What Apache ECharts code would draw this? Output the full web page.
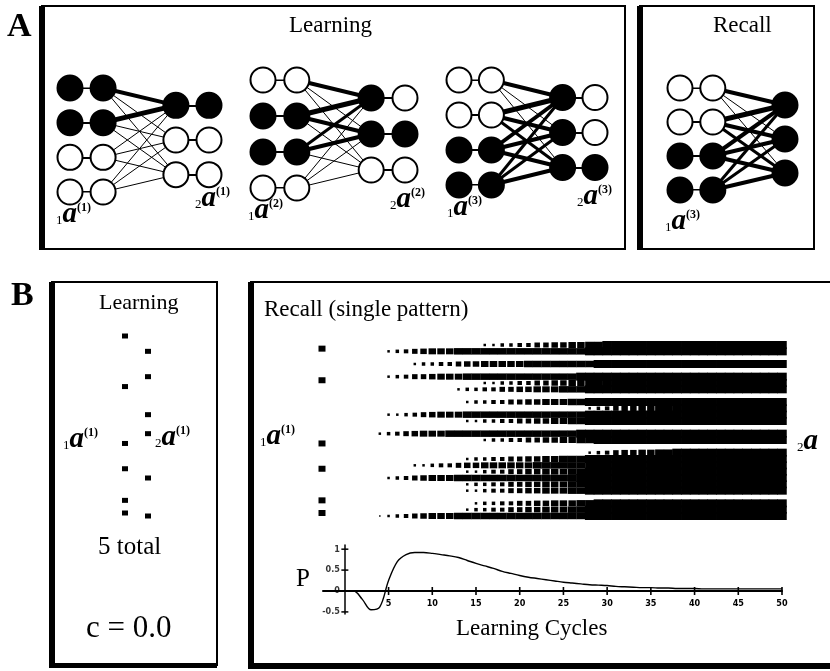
<!DOCTYPE html>
<html><head><meta charset="utf-8">
<script src="https://cdn.jsdelivr.net/npm/echarts@6/dist/echarts.min.js"></script>
<style>html,body{margin:0;padding:0;background:#fff}#c{width:830px;height:671px}</style>
</head><body><div id="c"></div>
<script>
// ---------- network snapshots (panel A) ----------
// input unit states, top to bottom (1 = active)
const inputs1 = [1, 1, 0, 0];
const inputs2 = [0, 1, 1, 0];
const inputs3 = [0, 0, 1, 1];
const inputsRecall = [0, 0, 1, 1];
// output unit states per row: [first column, second column]
const outputs1 = [[1, 1], [0, 0], [0, 0]];
const outputs2 = [[1, 0], [1, 1], [0, 0]];
const outputs3 = [[1, 0], [1, 0], [1, 1]];
const outputsRecall = [[1], [1], [1]];
// connection strengths input row -> output row (stroke weight)
const weights1 = [[4, 1, 1], [5, 1, 1], [1, 1, 1], [1, 1, 1]];
const weights2 = [[4, 1, 1], [5, 4, 1], [3, 4, 1], [1, 1, 1]];
const weights3 = [[4, 1, 1], [5, 4, 3], [4, 4, 4], [3, 3, 4]];
const weightsRecall = [[4, 1, 1], [5, 4, 3], [4, 4, 4], [3, 3, 4]];

// ---------- panel B ----------
// active input units of the learned pattern and of the recall cue
const learnedIn = [0, 8, 17, 21, 26, 28];
const cueIn = [2, 7, 17, 21, 26, 28];
// active output units of the learned pattern
const learnedOut = [1, 5, 11, 14, 21, 27];
// recalled output activity: unit index and activity level (0-9) for cycles 0..50
const rasterUnits = [0, 1, 3, 5, 6, 7, 9, 10, 11, 12, 14, 15, 17, 18, 19, 20, 21, 22, 23, 25, 26, 27];
const rasterLevels = [
  "00000 00000 00000 02233 44556 67788 99999 99999 99999 99999 9",
  "00000 23456 77788 88888 88888 88899 99999 99999 99999 99999 9",
  "00000 00023 34456 67777 78888 88889 99999 99999 99999 99999 9",
  "00000 23455 67778 88888 88888 88999 99999 99999 99999 99999 9",
  "00000 00000 00000 02233 44556 67788 99999 99999 99999 99999 9",
  "00000 00000 00023 34455 66777 88899 99999 99999 99999 99999 9",
  "00000 00000 00002 33445 56677 78899 99999 99999 99999 99999 9",
  "00000 00000 00000 00000 00000 00023 45667 78899 99999 99999 9",
  "00000 22345 67778 88888 88888 88899 99999 99999 99999 99999 9",
  "00000 00000 00002 23344 55667 78899 99999 99999 99999 99999 9",
  "00002 34567 77888 88888 88888 88999 99999 99999 99999 99999 9",
  "00000 00000 00000 02334 45566 77889 99999 99999 99999 99999 9",
  "00000 00000 00000 00000 00000 00023 45667 78899 99999 99999 9",
  "00000 00000 00002 33445 56677 88899 99999 99999 99999 99999 9",
  "00000 00022 34456 67777 77888 88889 99999 99999 99999 99999 9",
  "00000 00000 00002 23445 56677 78899 99999 99999 99999 99999 9",
  "00000 23456 77788 88888 88888 88999 99999 99999 99999 99999 9",
  "00000 00000 00002 33445 56677 78899 99999 99999 99999 99999 9",
  "00000 00000 00002 23445 56677 78899 99999 99999 99999 99999 9",
  "00000 00000 00000 23344 55667 77889 99999 99999 99999 99999 9",
  "00000 00000 00002 33445 56677 78899 99999 99999 99999 99999 9",
  "00001 23456 77788 88888 88888 88899 99999 99999 99999 99999 9"
];
// recall performance P at learning cycles 0..50
const pValues = [
  0, 0, -0.2, -0.45, -0.38, 0.25, 0.7, 0.87, 0.92, 0.92, 0.9,
  0.87, 0.84, 0.8, 0.73, 0.66, 0.6, 0.54, 0.47, 0.42, 0.37,
  0.33, 0.3, 0.27, 0.24, 0.21, 0.19, 0.17, 0.15, 0.14, 0.13,
  0.11, 0.1, 0.09, 0.08, 0.08, 0.07, 0.07, 0.06, 0.06, 0.06,
  0.05, 0.05, 0.05, 0.05, 0.05, 0.05, 0.05, 0.05, 0.05, 0.05
];
const pTicksX = [5, 10, 15, 20, 25, 30, 35, 40, 45, 50];
const pTicksY = [-0.5, 0.5, 1];
const pLabelsY = [-0.5, 0, 0.5, 1];

// ---------- drawing ----------
const SERIF = '"Liberation Serif", "Times New Roman", serif';
const TICKFONT = '"Liberation Sans Narrow", "DejaVu Sans Condensed", sans-serif';
const BLK = '#000';
const sqW = [0, 1.5, 2.5, 3.5, 4.5, 5.5, 6.5, 7.5, 9, 9.5];
const sqH = [0, 1.5, 2.5, 3.5, 4, 5, 5.5, 6, 6.5, 8];

const grids = [], xAxes = [], yAxes = [], series = [];
function addGrid(g, x, y) {
  grids.push(Object.assign({ containLabel: false }, g));
  const gi = grids.length - 1;
  xAxes.push(Object.assign({ gridIndex: gi, type: 'value', show: false }, x));
  yAxes.push(Object.assign({ gridIndex: gi, type: 'value', show: false }, y));
  return gi;
}

const colIn = [0, 1], colOut = [3.2, 4.2];
function network(box, ins, outs, w) {
  const gi = addGrid(box, { min: 0, max: outs[0].length > 1 ? 4.2 : 3.2 }, { min: 0, max: 3, inverse: true });
  const links = [];
  ins.forEach((s, i) => links.push({ coords: [[colIn[0], i], [colIn[1], i]], lineStyle: { width: 2 } }));
  outs.forEach((o, j) => { if (o.length > 1) links.push({ coords: [[colOut[0], j + 0.5], [colOut[1], j + 0.5]], lineStyle: { width: 2 } }); });
  w.forEach((row, i) => row.forEach((v, j) => links.push({ coords: [[colIn[1], i], [colOut[0], j + 0.5]], lineStyle: { width: v } })));
  series.push({ type: 'lines', coordinateSystem: 'cartesian2d', xAxisIndex: gi, yAxisIndex: gi, silent: true, z: 1,
    lineStyle: { color: BLK, opacity: 1, width: 1 }, data: links });
  const nodes = [];
  ins.forEach((s, i) => colIn.forEach(cx => nodes.push({ value: [cx, i], itemStyle: { color: s ? BLK : '#fff' } })));
  outs.forEach((o, j) => o.forEach((s, c) => nodes.push({ value: [colOut[c], j + 0.5], itemStyle: { color: s ? BLK : '#fff' } })));
  series.push({ type: 'scatter', xAxisIndex: gi, yAxisIndex: gi, silent: true, clip: false, z: 3, symbolSize: 25,
    itemStyle: { borderColor: BLK, borderWidth: 2, opacity: 1 }, data: nodes });
}
network({ left: 70, top: 88, width: 139, height: 104 }, inputs1, outputs1, weights1);
network({ left: 263, top: 80, width: 142, height: 108 }, inputs2, outputs2, weights2);
network({ left: 459, top: 80, width: 136, height: 105 }, inputs3, outputs3, weights3);
network({ left: 680, top: 88, width: 105, height: 102 }, inputsRecall, outputsRecall, weightsRecall);

// unit scales for panel B (input layer and output layer)
const inAxis = { min: 0, max: 28, inverse: true };
const outAxis = { min: 0, max: 27, inverse: true };
const inBox = { top: 336, height: 177 };
const outBox = { top: 345, height: 171 };
function dots(left, box, axis, units, size) {
  const gi = addGrid(Object.assign({ left: left - 1, width: 2 }, box), { min: -1, max: 1 }, axis);
  series.push({ type: 'scatter', xAxisIndex: gi, yAxisIndex: gi, clip: false, silent: true, symbol: 'rect', symbolSize: size,
    itemStyle: { color: BLK, opacity: 1 }, data: units.map(u => [0, u]) });
}
// learned pattern pair
dots(125, inBox, inAxis, learnedIn, [6, 5]);
dots(148, outBox, outAxis, learnedOut, [6, 5]);
// recall cue
dots(322, inBox, inAxis, cueIn, [7, 6]);

// recalled activity raster
const gR = addGrid(Object.assign({ left: 323, width: 459 }, outBox), { min: -2.5, max: 50 }, outAxis);
const rasterData = [];
rasterUnits.forEach((u, r) => {
  const lv = rasterLevels[r].replace(/ /g, '');
  for (let c = 0; c < lv.length; c++) {
    const l = +lv[c];
    if (l > 0) rasterData.push([c, u, l]);
  }
});
series.push({ type: 'scatter', xAxisIndex: gR, yAxisIndex: gR, clip: false, silent: true, symbol: 'rect',
  symbolSize: v => [sqW[v[2]], sqH[v[2]]], itemStyle: { color: BLK, opacity: 1 }, large: false, progressive: 0,
  data: rasterData });

// performance curve
const gP = addGrid({ left: 323, top: 545, width: 459, height: 69 },
  { show: true, min: -2.5, max: 50,
    axisLine: { onZero: true, lineStyle: { color: BLK, width: 2 } },
    axisTick: { show: false }, splitLine: { show: false }, axisLabel: { show: false } },
  { show: true, min: -0.55, max: 1.1,
    axisLine: { show: true, onZero: true, lineStyle: { color: BLK, width: 1.5 } },
    axisTick: { show: false }, splitLine: { show: false }, axisLabel: { show: false } });
series.push({ type: 'line', xAxisIndex: gP, yAxisIndex: gP, data: pValues.map((v, i) => [i, v]), smooth: 0.35,
  showSymbol: false, silent: true, clip: false, lineStyle: { color: BLK, width: 1.4 }, z: 3 });
const tickLabel = { show: true, color: BLK, fontFamily: TICKFONT, fontWeight: 'bold', fontSize: 9 };
series.push({ type: 'scatter', xAxisIndex: gP, yAxisIndex: gP, silent: true, clip: false, symbol: 'rect',
  symbolSize: [1.6, 8], itemStyle: { color: BLK, opacity: 1 },
  label: Object.assign({ position: 'bottom', distance: 4, formatter: p => String(p.value[0]) }, tickLabel),
  data: pTicksX.map(t => [t, 0]) });
series.push({ type: 'scatter', xAxisIndex: gP, yAxisIndex: gP, silent: true, clip: false, symbol: 'rect',
  symbolSize: [7, 1.5], itemStyle: { color: BLK, opacity: 1 }, data: pTicksY.map(t => [0, t]) });
series.push({ type: 'scatter', xAxisIndex: gP, yAxisIndex: gP, silent: true, clip: false, symbolSize: 0,
  label: Object.assign({ position: 'left', distance: 5, formatter: p => String(p.value[1]) }, tickLabel),
  data: pLabelsY.map(t => [0, t]) });

// frames and text
function frame(x, y, w, h, thickLeft, thickBottom) {
  const els = [{ type: 'rect', shape: { x, y, width: w, height: h }, style: { fill: 'none', stroke: BLK, lineWidth: 2 } }];
  els.push({ type: 'rect', shape: { x: x - 3, y: y, width: thickLeft, height: h + 1 }, style: { fill: BLK } });
  if (thickBottom) els.push({ type: 'rect', shape: { x: x - 3, y: y + h - 2, width: w + 3, height: thickBottom }, style: { fill: BLK } });
  return els;
}
function txt(s, x, y, size, weight) {
  return { type: 'text', left: x, top: y,
    style: { text: s, fill: BLK, fontSize: size, fontFamily: SERIF, fontWeight: weight || 'normal' } };
}
function sym(sub, sup, x, y) {
  return { type: 'text', left: x, top: y, style: {
    text: '{s|' + sub + '}{a|a}' + (sup ? '{p|(' + sup + ')}' : ''),
    rich: {
      s: { fontSize: 13, fontFamily: SERIF, fill: BLK, verticalAlign: 'bottom', lineHeight: 26 },
      a: { fontSize: 29, fontFamily: SERIF, fontStyle: 'italic', fontWeight: 'bold', fill: BLK, lineHeight: 26 },
      p: { fontSize: 12, fontFamily: SERIF, fontWeight: 'bold', fill: BLK, verticalAlign: 'top', lineHeight: 26 }
    } } };
}
const gfx = [].concat(
  frame(42, 6, 583, 243, 6),
  frame(640, 6, 174, 243, 6),
  frame(52, 282, 165, 383, 6, 5),
  frame(251, 282, 600, 383, 6, 6),
  [
    txt('A', 7, 10, 34, 'bold'),
    txt('B', 11, 279, 34, 'bold'),
    txt('Learning', 289, 14, 23),
    txt('Recall', 713, 14, 23),
    txt('Learning', 99, 292, 22),
    txt('Recall (single pattern)', 264, 298, 23),
    txt('5 total', 98, 535, 25),
    txt('c = 0.0', 86, 613, 31),
    txt('P', 296, 567, 25),
    txt('Learning Cycles', 456, 617, 23),
    sym('1', '1', 56, 200), sym('2', '1', 195, 184),
    sym('1', '2', 248, 196), sym('2', '2', 390, 185),
    sym('1', '3', 447, 193), sym('2', '3', 577, 182),
    sym('1', '3', 665, 207),
    sym('1', '1', 63, 425), sym('2', '1', 155, 423),
    sym('1', '1', 260, 422), sym('2', '', 797, 427)
  ]
);

const chart = echarts.init(document.getElementById('c'));
chart.setOption({
  animation: false,
  backgroundColor: '#fff',
  grid: grids, xAxis: xAxes, yAxis: yAxes, series: series,
  graphic: gfx
});
</script>
</body></html>
